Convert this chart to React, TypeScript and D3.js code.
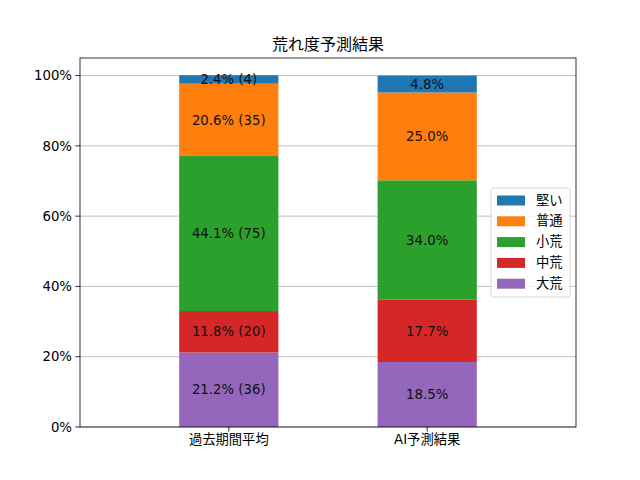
import React, { useEffect, useRef } from "react";
import * as d3 from "d3";

// categories on the x axis
const groups = ["過去期間平均", "AI予測結果"];
// stack order, bottom to top
const levels = ["大荒", "中荒", "小荒", "普通", "堅い"];
const colors = ["#9467bd", "#d62728", "#2ca02c", "#ff7f0e", "#1f77b4"];
// percentages per level (bottom to top)
const pastPct = [21.2, 11.8, 44.1, 20.6, 2.4];
const pastCount = [36, 20, 75, 35, 4];
const aiPct = [18.5, 17.7, 34.0, 25.0, 4.8];
const yTicks = [0, 20, 40, 60, 80, 100];

const FONT = "'DejaVu Sans', 'Noto Sans CJK JP', sans-serif";

export default function App() {
  const ref = useRef<SVGSVGElement>(null);

  useEffect(() => {
    const width = 640,
      height = 480;
    const margin = { top: 58, right: 64, bottom: 53, left: 80 };
    const svg = d3.select(ref.current);
    svg.selectAll("*").remove();
    svg.attr("width", width).attr("height", height).style("font-family", FONT);

    const x = d3
      .scaleLinear()
      .domain([-0.75, 1.75])
      .range([margin.left, width - margin.right]);
    const y = d3
      .scaleLinear()
      .domain([0, 105])
      .range([height - margin.bottom, margin.top]);
    const barW = x(0.5) - x(0);

    svg
      .append("rect")
      .attr("width", width)
      .attr("height", height)
      .attr("fill", "white");

    // grid
    svg
      .append("g")
      .selectAll("line")
      .data(yTicks)
      .enter()
      .append("line")
      .attr("x1", margin.left)
      .attr("x2", width - margin.right)
      .attr("y1", (d) => y(d))
      .attr("y2", (d) => y(d))
      .attr("stroke", "#b0b0b0")
      .attr("stroke-width", 0.8);

    const series = [
      { name: groups[0], pct: pastPct, count: pastCount as number[] | null },
      { name: groups[1], pct: aiPct, count: null },
    ];

    series.forEach((s, i) => {
      let base = 0;
      const g = svg.append("g");
      s.pct.forEach((v, j) => {
        const y0 = base,
          y1 = base + v;
        base = y1;
        g.append("rect")
          .attr("x", x(i) - barW / 2)
          .attr("width", barW)
          .attr("y", y(y1))
          .attr("height", y(y0) - y(y1))
          .attr("fill", colors[j]);
        g.append("text")
          .attr("x", x(i))
          .attr("y", y((y0 + y1) / 2))
          .attr("dy", "0.35em")
          .attr("text-anchor", "middle")
          .attr("font-size", 13.3)
          .attr("fill", "#111")
          .text(
            v.toFixed(1) + "%" + (s.count ? " (" + s.count[j] + ")" : "")
          );
      });
    });

    // axes frame
    svg
      .append("rect")
      .attr("x", margin.left)
      .attr("y", margin.top)
      .attr("width", width - margin.left - margin.right)
      .attr("height", height - margin.top - margin.bottom)
      .attr("fill", "none")
      .attr("stroke", "black")
      .attr("stroke-width", 0.8);

    // y ticks
    const yt = svg.append("g");
    yTicks.forEach((t) => {
      yt.append("line")
        .attr("x1", margin.left - 4.7)
        .attr("x2", margin.left)
        .attr("y1", y(t))
        .attr("y2", y(t))
        .attr("stroke", "black")
        .attr("stroke-width", 0.8);
      yt.append("text")
        .attr("x", margin.left - 8)
        .attr("y", y(t))
        .attr("dy", "0.35em")
        .attr("text-anchor", "end")
        .attr("font-size", 13.3)
        .text(t + "%");
    });

    // x ticks
    groups.forEach((gname, i) => {
      svg
        .append("line")
        .attr("x1", x(i))
        .attr("x2", x(i))
        .attr("y1", height - margin.bottom)
        .attr("y2", height - margin.bottom + 4.7)
        .attr("stroke", "black")
        .attr("stroke-width", 0.8);
      svg
        .append("text")
        .attr("x", x(i))
        .attr("y", height - margin.bottom + 17)
        .attr("text-anchor", "middle")
        .attr("font-size", 13.3)
        .text(gname);
    });

    // title
    svg
      .append("text")
      .attr("x", (margin.left + width - margin.right) / 2)
      .attr("y", 50)
      .attr("text-anchor", "middle")
      .attr("font-size", 16)
      .text("荒れ度予測結果");

    // legend
    const lg = svg.append("g").attr("transform", "translate(491,188)");
    lg.append("rect")
      .attr("width", 79)
      .attr("height", 109)
      .attr("rx", 3)
      .attr("fill", "white")
      .attr("fill-opacity", 0.8)
      .attr("stroke", "#cccccc")
      .attr("stroke-width", 0.8);
    const order = levels.map((_, i) => levels.length - 1 - i);
    order.forEach((idx, k) => {
      const cy = 12 + k * 20.8;
      lg.append("rect")
        .attr("x", 6)
        .attr("y", cy - 4.5)
        .attr("width", 28)
        .attr("height", 10)
        .attr("fill", colors[idx]);
      lg.append("text")
        .attr("x", 45)
        .attr("y", cy)
        .attr("dy", "0.35em")
        .attr("font-size", 13.3)
        .text(levels[idx]);
    });
  }, []);

  return (
    <svg
      ref={ref}
      style={{ position: "absolute", left: 0, top: 0, display: "block" }}
    ></svg>
  );
}
